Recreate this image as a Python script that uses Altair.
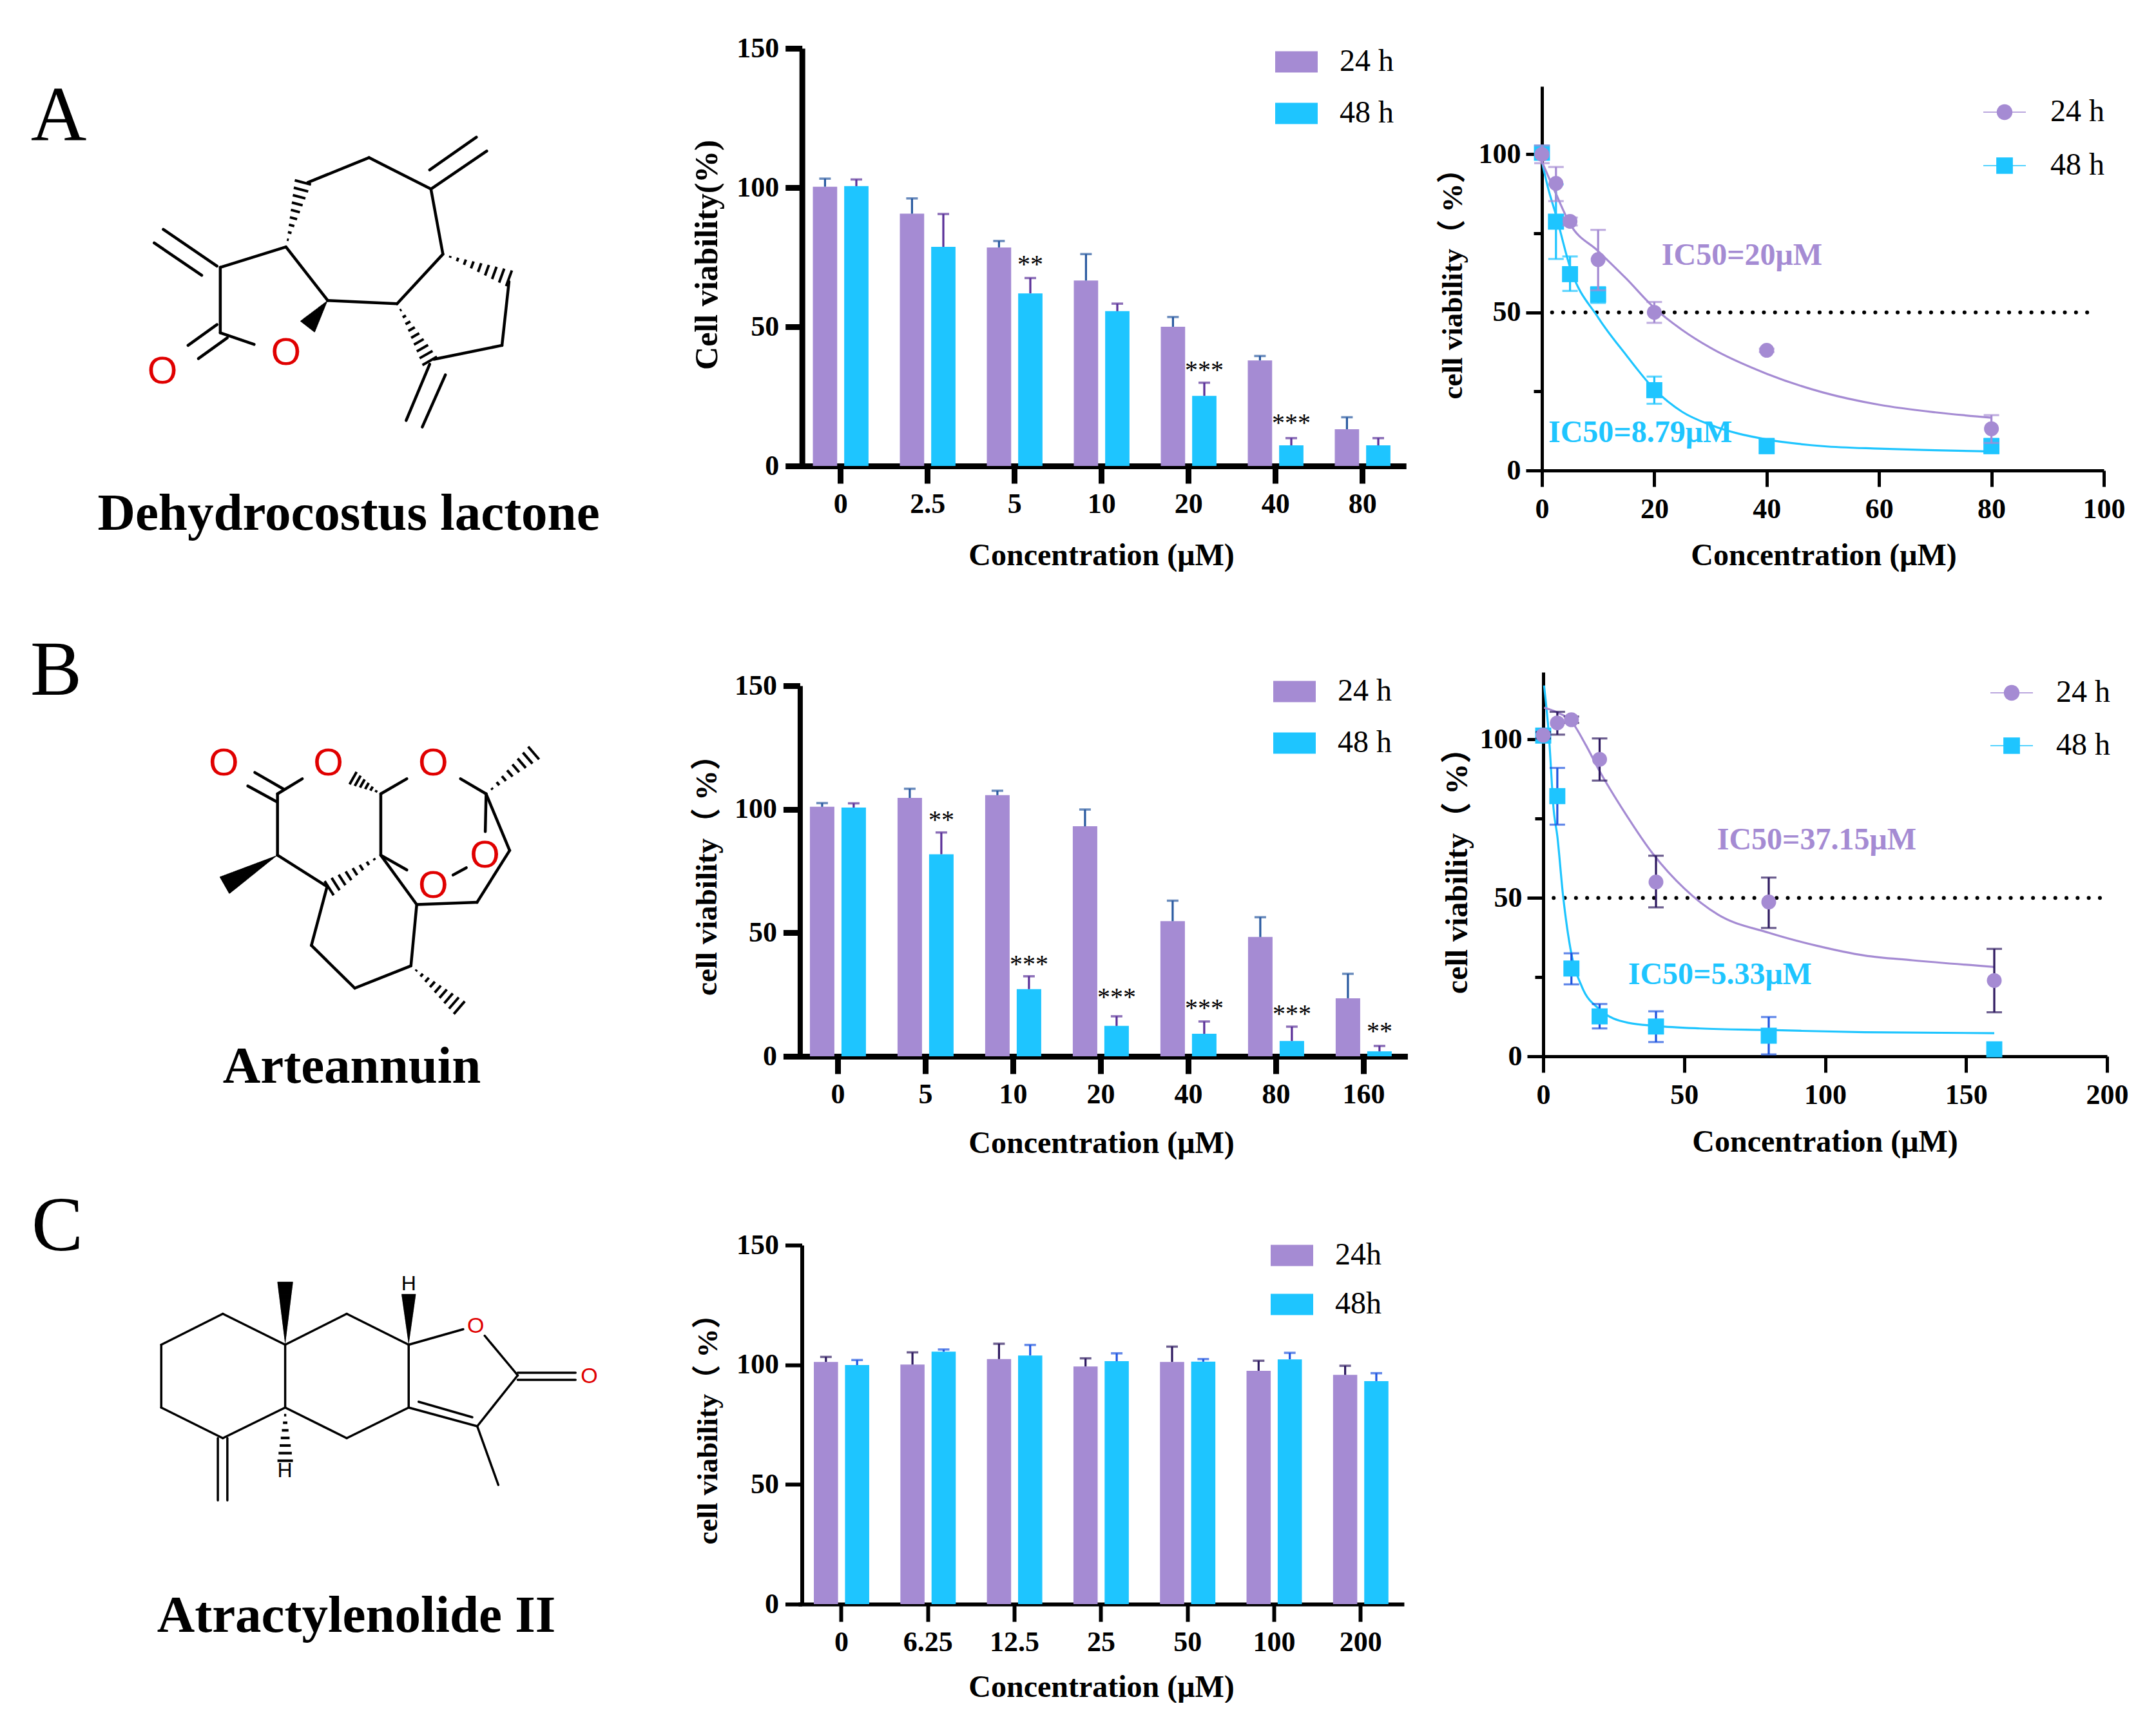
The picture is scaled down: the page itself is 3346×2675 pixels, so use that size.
import altair as alt
import pandas as pd
import math

SERIF = "Liberation Serif, Noto Sans CJK SC"
PURPLE = "#a58bd3"
CYAN = "#1ec5ff"

# ---------- bar panels ----------
A_cats = ["0", "2.5", "5", "10", "20", "40", "80"]
A_24 = [100.3, 90.6, 78.5, 66.6, 50, 37.9, 13.2]
A_24_top = [103.2, 96.1, 80.8, 76.1, 53.5, 39.5, 17.5]
A_48 = [100.5, 78.7, 62, 55.6, 25.2, 7.4, 7.4]
A_48_top = [102.9, 90.5, 67.5, 58.3, 29.9, 10, 10]
A_stars = [("5", "**", 73.6), ("20", "***", 35.7), ("40", "***", 16.6)]

B_cats = ["0", "5", "10", "20", "40", "80", "160"]
B_24 = [101, 104.6, 105.7, 93.1, 54.7, 48.3, 23.5]
B_24_top = [102.5, 108.3, 107.5, 99.9, 63, 56.3, 33.4]
B_48 = [100.7, 81.8, 27.2, 12.3, 9.1, 6.2, 2]
B_48_top = [102.4, 90.6, 32.4, 16.2, 14.1, 12, 4.2]
B_stars = [("5", "**", 97), ("10", "***", 38.7), ("20", "***", 25.2), ("40", "***", 21), ("80", "***", 18.6), ("160", "**", 11.4)]

C_cats = ["0", "6.25", "12.5", "25", "50", "100", "200"]
C_24 = [101.2, 100.1, 102.4, 99.3, 101.2, 97.5, 95.8]
C_24_top = [103.3, 105.2, 108.8, 102.7, 107.6, 101.7, 99.6]
C_48 = [99.9, 105.5, 103.9, 101.5, 101.3, 102.3, 93.2]
C_48_top = [102, 106.4, 108.3, 104.8, 102.4, 105, 96.5]

# ---------- curve panels ----------
cA_conc = [0, 2.5, 5, 10, 20, 40, 80]
cA_24 = [100, 90.8, 78.8, 66.7, 50, 38, 13.2]
cA_24_lo = [97.2, 85.2, 77.5, 57, 46.7, 37.5, 8.7]
cA_24_hi = [102.8, 96, 80, 76.1, 53.3, 38.5, 17.5]
cA_48 = [100.5, 78.7, 62.1, 55.6, 25.4, 7.7, 7.7]
cA_48_lo = [98.5, 66.9, 56.8, 53, 21.1, 5.5, 5.5]
cA_48_hi = [102.5, 90.5, 67.7, 58, 29.7, 10, 10]
cA_curve24_x = [0, 2.5, 5, 10, 15, 20, 25, 30, 40, 50, 60, 70, 80]
cA_curve24_y = [97.7, 87.5, 78, 69.4, 60.7, 51.4, 44.4, 38.8, 30.6, 24.7, 20.8, 18.4, 16.7]
cA_curve48_x = [0, 1, 2.5, 5, 10, 15, 20, 25, 30, 40, 50, 60, 70, 80]
cA_curve48_y = [97.7, 90, 80.8, 64.3, 48.4, 36.5, 25.7, 18.5, 14.4, 9.8, 7.7, 6.9, 6.4, 6.0]

cB_conc = [0, 5, 10, 20, 40, 80, 160]
cB_24 = [101.3, 105.2, 106.2, 93.7, 55, 48.7, 23.9]
cB_24_lo = [100.3, 101.5, 105.2, 87, 47, 40.5, 13.9]
cB_24_hi = [102.3, 108.7, 107.2, 100.3, 63.3, 56.4, 33.9]
cB_48 = [101.2, 82.1, 27.7, 12.6, 9.4, 6.5, 2.2]
cB_48_lo = [100.2, 73.1, 22.7, 8.8, 4.5, 0.6, 0.5]
cB_48_hi = [102.2, 91, 32.5, 16.5, 14.2, 12.4, 4]
cB_curve24_x = [0.3, 5, 10, 15, 20, 29, 39, 50, 62, 80, 97, 114, 131, 160]
cB_curve24_y = [110, 108.5, 105.7, 98.4, 90, 76.8, 63.8, 53, 44.7, 39, 34.9, 31.8, 30.3, 28.2]
cB_curve48_x = [0.3, 2, 3.7, 5, 7, 10, 13.7, 20, 30, 40, 55.5, 80, 114, 160]
cB_curve48_y = [117, 101.5, 77.8, 69.5, 51, 32.3, 22, 14.8, 10.6, 9.6, 8.8, 8.3, 7.6, 7.3]

# ---------- page geometry (pixels) ----------
ROW_START = [12, 734, 1643]
ROW_BOT = [727, 1647, 2499]
STRUCT_H = [700, 900, 700]
COL0_W = 1229
BAR_H = [715, 909, 850]
BAR_W = 1156
CURVE_H = [722, 909]
CURVE_BOT = [734, 1647]

BOX = "M-1,-0.5H1V0.5H-1Z"
LEG_CIRCLE = "M-1,-0.025H1V0.025H-1Z M0.37,0A0.37,0.37 0 1,1 -0.37,0A0.37,0.37 0 1,1 0.37,0Z"
LEG_SQUARE = "M-1,-0.025H1V0.025H-1Z M-0.39,-0.39H0.39V0.39H-0.39Z"


def bar_panel(cats, v24, t24, v48, t48, stars, names, row, plot_h, t0, dx, step, bw_y, bw_x, title, title_size,
              title_y_x, title_y_abs, title_x_rel, title_x_y, err_cols, leg_x, leg_y_abs, leg_pad, star_dy=6, tw=9, label_pad=10):
    H = BAR_H[row]
    bot = ROW_BOT[row]
    s24, s48 = names
    df = pd.DataFrame(
        [{"c": c, "s": s24, "v": v, "top": t} for c, v, t in zip(cats, v24, t24)]
        + [{"c": c, "s": s48, "v": v, "top": t} for c, v, t in zip(cats, v48, t48)]
    )
    x = alt.X(
        "c:N",
        sort=None,
        scale=alt.Scale(domain=cats, range=[t0 - step / 2, t0 + step * (len(cats) - 0.5)], paddingInner=0, paddingOuter=0),
        axis=alt.Axis(
            title="Concentration (μM)",
            titleX=title_x_rel,
            titleY=title_x_y,
            titleAnchor=None,
            titleAlign="center",
            titleBaseline="middle",
            labelAngle=0,
            tickSize=27,
            tickWidth=tw,
            domainWidth=bw_x,
            labelPadding=label_pad,
            labelFontSize=44,
        ),
    )
    xo = alt.XOffset("s:N", sort=None, scale=alt.Scale(domain=[s24, s48], paddingInner=0.224, paddingOuter=0.5))
    yscale = alt.Scale(domain=[0, 150], range=[H, H - plot_h], nice=False)
    y = alt.Y(
        "v:Q",
        scale=yscale,
        axis=alt.Axis(
            title=title,
            values=[0, 50, 100, 150],
            offset=-dx,
            titleX=title_y_x,
            titleY=H - (bot - title_y_abs),
            titleAnchor=None,
            titleAngle=-90,
            titleAlign="center",
            titleBaseline="middle",
            titleFontSize=title_size,
            tickSize=26,
            tickWidth=tw,
            domainWidth=bw_y,
            labelPadding=10,
            labelFontSize=44,
        ),
    )
    legend = alt.Legend(
        orient="none",
        legendX=leg_x,
        legendY=H - (bot - leg_y_abs) - 31,
        title=None,
        symbolType=BOX,
        symbolSize=4356,
        symbolStrokeWidth=0,
        rowPadding=leg_pad,
        labelFont=SERIF,
        labelFontSize=48,
        labelFontWeight="normal",
        labelColor="black",
        labelOffset=34,
        padding=0,
    )
    bars = alt.Chart(df).mark_bar().encode(
        x=x,
        xOffset=xo,
        y=y,
        color=alt.Color("s:N", sort=None, scale=alt.Scale(domain=[s24, s48], range=[PURPLE, CYAN]), legend=legend),
    )
    layers = [bars]
    for s, col in zip([s24, s48], err_cols):
        d = df[df.s == s]
        layers.append(alt.Chart(d).mark_rule(color=col, strokeWidth=3.2).encode(
            x=alt.X("c:N", sort=None), xOffset=alt.XOffset("s:N", sort=None), y="v:Q", y2="top:Q"))
        layers.append(alt.Chart(d).mark_tick(color=col, orient="horizontal", size=18, thickness=3.5).encode(
            x=alt.X("c:N", sort=None), xOffset=alt.XOffset("s:N", sort=None), y=alt.Y("top:Q")))
    if stars:
        sd = pd.DataFrame([{"c": c, "s": s48, "t": t, "p": p} for c, t, p in stars])
        layers.append(alt.Chart(sd).mark_text(font=SERIF, fontSize=40, color="black", baseline="middle", dy=star_dy).encode(
            x=alt.X("c:N", sort=None), xOffset=alt.XOffset("s:N", sort=None), y=alt.Y("p:Q"), text="t:N"))
    return alt.layer(*layers).properties(width=BAR_W, height=H)


def curve_panel(conc, m24, lo24, hi24, m48, lo48, hi48, cx24, cy24, cx48, cy48, xmax, xvals, row, dx, width,
                plot_w, plot_h, ymax, title, title_size, ty_x, ty_abs, tx_rel, tx_y, err_cols, ic, ref, leg_x, leg_y_abs, leg_pad, leg_off):
    H = CURVE_H[row]
    bot = CURVE_BOT[row]
    xs = alt.Scale(domain=[0, xmax], range=[dx, dx + plot_w], nice=False)
    ys = alt.Scale(domain=[0, ymax], range=[H, H - plot_h], nice=False)
    xaxis = alt.Axis(
        title="Concentration (μM)", values=xvals, titleX=tx_rel, titleY=tx_y, titleAnchor=None, titleAlign="center",
        titleBaseline="middle", tickSize=25, tickWidth=5, domainWidth=5, labelPadding=13, labelFontSize=44, labelAngle=0)
    y = alt.Y("y:Q", scale=ys, axis=alt.Axis(
        title=title, values=[0, 25, 50, 75, 100], offset=-dx, titleX=ty_x, titleY=H - (bot - ty_abs), titleAnchor=None, titleAngle=-90,
        titleAlign="center", titleBaseline="middle", titleFontSize=title_size,
        tickSize={"condition": {"test": "datum.value % 50 === 0", "value": 25}, "value": 13},
        labelExpr="datum.value % 50 === 0 ? datum.label : ''",
        tickWidth=5, domainWidth=5, labelPadding=8, labelFontSize=44))

    df24 = pd.DataFrame({"x": conc, "y": m24, "lo": lo24, "hi": hi24, "s": "24 h"})
    df48 = pd.DataFrame({"x": conc, "y": m48, "lo": lo48, "hi": hi48, "s": "48 h"})
    cur24 = pd.DataFrame({"x": cx24, "y": cy24})
    cur48 = pd.DataFrame({"x": cx48, "y": cy48})
    legend = alt.Legend(
        orient="none", legendX=leg_x, legendY=H - (bot - leg_y_abs) - 31, title=None, symbolSize=4356,
        symbolStrokeWidth=0, symbolOpacity=1,
        rowPadding=leg_pad, labelFont=SERIF, labelFontSize=48, labelFontWeight="normal", labelColor="black",
        labelOffset=leg_off, padding=0)
    layers = [
        alt.Chart(pd.DataFrame({"a": [ref[0]], "b": [ref[1]], "y": [50]})).mark_rule(
            color="black", strokeWidth=6, strokeDash=[0.1, 17.2], strokeCap="round").encode(
            x=alt.X("a:Q", scale=xs, axis=xaxis), x2="b:Q", y=y),
        alt.Chart(cur48).mark_line(color=CYAN, strokeWidth=3.2, interpolate="monotone").encode(x="x:Q", y="y:Q"),
        alt.Chart(cur24).mark_line(color=PURPLE, strokeWidth=3.2, interpolate="monotone").encode(x="x:Q", y="y:Q"),
    ]
    for d, col, shp, sz, ec in [(df48, CYAN, "square", 620, err_cols[1]), (df24, PURPLE, "circle", 530, err_cols[0])]:
        layers.append(alt.Chart(d).mark_rule(color=ec, strokeWidth=3.2).encode(x="x:Q", y="lo:Q", y2="hi:Q"))
        layers.append(alt.Chart(d).mark_tick(color=ec, orient="horizontal", size=24, thickness=3.2).encode(x="x:Q", y="lo:Q"))
        layers.append(alt.Chart(d).mark_tick(color=ec, orient="horizontal", size=24, thickness=3.2).encode(x="x:Q", y="hi:Q"))
        layers.append(alt.Chart(d).mark_point(color=col, filled=True, opacity=1, shape=shp, size=sz).encode(x="x:Q", y="y:Q"))
    for tx, ty, txt, col in ic:
        layers.append(alt.Chart(pd.DataFrame({"x": [tx], "y": [ty], "t": [txt]})).mark_text(
            font=SERIF, fontWeight="bold", fontSize=48, color=col, baseline="middle").encode(x="x:Q", y="y:Q", text="t:N"))
    both = pd.concat([df24, df48])
    layers.append(alt.Chart(both).mark_point(filled=True, opacity=0, size=1).encode(
        x="x:Q", y="y:Q",
        color=alt.Color("s:N", sort=None, scale=alt.Scale(domain=["24 h", "48 h"], range=[PURPLE, CYAN]), legend=legend),
        shape=alt.Shape("s:N", sort=None, scale=alt.Scale(domain=["24 h", "48 h"], range=[LEG_CIRCLE, LEG_SQUARE]), legend=legend),
    ))
    return alt.layer(*layers).properties(width=width, height=H)


# ---------- chemical structures (bonds, page pixels) ----------
def wedge(p0, p1, w, hashed):
    n = max(6, int(math.dist(p0, p1) / 11)) if hashed else int(math.dist(p0, p1) / 1.6)
    dx, dy = p1[0] - p0[0], p1[1] - p0[1]
    L = math.hypot(dx, dy)
    nx, ny = -dy / L, dx / L
    out = []
    for i in range(1, n + 1):
        t = i / n
        cx, cy = p0[0] + dx * t, p0[1] + dy * t
        h = t * w / 2
        out.append((cx - nx * h, cy - ny * h, cx + nx * h, cy + ny * h))
    return out


def struct(row, fx, fy, bonds, hashes, solids, red, dark, lw, ofs, name, name_xy, name_size, letter, letter_xy):
    top = ROW_START[row]
    h = STRUCT_H[row]
    bot = top + h
    width = COL0_W
    P = lambda p: (fx(p[0]), fy(p[1]))
    rows = []
    for a, b in bonds:
        a, b = P(a), P(b)
        rows.append({"x": a[0], "y": a[1], "x2": b[0], "y2": b[1]})
    seg = pd.DataFrame(rows)
    hs = []
    for a, b, w in hashes:
        hs += wedge(P(a), P(b), w, True)
    ss = []
    for a, b, w in solids:
        ss += wedge(P(a), P(b), w, False)
    hd = pd.DataFrame(hs, columns=["x", "y", "x2", "y2"])
    sd = pd.DataFrame(ss, columns=["x", "y", "x2", "y2"])
    xs = alt.Scale(domain=[8, 8 + width], range=[0, width], nice=False, zero=False)
    ys = alt.Scale(domain=[bot, top], range=[h, 0], nice=False, zero=False)
    X = alt.X("x:Q", scale=xs, axis=None)
    Y = alt.Y("y:Q", scale=ys, axis=None)
    layers = [
        alt.Chart(seg).mark_rule(color="black", strokeWidth=lw, strokeCap="round").encode(x=X, y=Y, x2="x2:Q", y2="y2:Q"),
    ]
    if len(hd):
        layers.append(alt.Chart(hd).mark_rule(color="black", strokeWidth=4).encode(x=X, y=Y, x2="x2:Q", y2="y2:Q"))
    if len(sd):
        layers.append(alt.Chart(sd).mark_rule(color="black", strokeWidth=2.4).encode(x=X, y=Y, x2="x2:Q", y2="y2:Q"))
    rd = pd.DataFrame([{"x": fx(a), "y": fy(b), "t": "O"} for a, b in red])
    layers.append(alt.Chart(rd).mark_text(font="Liberation Sans", fontSize=ofs, color="#e00000", baseline="middle").encode(x=X, y=Y, text="t:N"))
    if dark:
        dd = pd.DataFrame([{"x": fx(a), "y": fy(b), "t": "H"} for a, b in dark])
        layers.append(alt.Chart(dd).mark_text(font="Liberation Sans", fontSize=32, color="black", baseline="middle").encode(x=X, y=Y, text="t:N"))
    layers.append(alt.Chart(pd.DataFrame([{"x": name_xy[0], "y": name_xy[1], "t": name}])).mark_text(
        font=SERIF, fontWeight="bold", fontSize=name_size, color="black", baseline="middle").encode(x=X, y=Y, text="t:N"))
    layers.append(alt.Chart(pd.DataFrame([{"x": letter_xy[0], "y": letter_xy[1], "t": letter}])).mark_text(
        font=SERIF, fontSize=120, color="black", baseline="middle").encode(x=X, y=Y, text="t:N"))
    return alt.layer(*layers).properties(width=width, height=h)


sA_bonds = [((538, 692), (697, 630)), ((697, 630), (798, 792)), ((798, 792), (966, 802)), ((966, 802), (1077, 652)),
            ((1077, 652), (1048, 455)), ((1048, 455), (898, 360)), ((898, 360), (750, 435)), ((1237, 735), (1220, 928)),
            ((1220, 928), (1055, 970)), ((538, 692), (538, 890)), ((538, 890), (620, 925)),
            ((530, 688), (400, 577)), ((493, 716), (378, 618)), ((1048, 455), (1183, 340)), ((1045, 397), (1158, 298)),
            ((1045, 985), (988, 1155)), ((1083, 1017), (1027, 1175)), ((530, 865), (460, 928)), ((555, 905), (485, 968))]
sA_hash = [((697, 630), (738, 435), 26), ((1077, 652), (1237, 725), 26), ((966, 802), (1045, 975), 26)]
sA_solid = [((798, 792), (750, 870), 28)]
sA_red = [(697, 952), (398, 1008)]

sB_bonds = [((675, 510), (735, 462)), ((620, 442), (690, 495)), ((603, 485), (673, 535)), ((675, 510), (675, 705)),
            ((675, 705), (795, 805)), ((795, 805), (757, 992)), ((757, 992), (862, 1128)), ((862, 1128), (998, 1057)),
            ((998, 1057), (1012, 862)), ((1012, 862), (925, 705)), ((925, 705), (925, 510)), ((925, 510), (988, 462)),
            ((1118, 462), (1180, 510)), ((1180, 510), (1178, 630)), ((1180, 510), (1237, 690)), ((1237, 690), (1158, 855)),
            ((1158, 855), (1012, 862)), ((925, 705), (988, 752)), ((1100, 768), (1132, 745))]
sB_hash = [((925, 510), (858, 460), 22), ((1180, 510), (1295, 380), 26), ((925, 705), (800, 810), 26), ((998, 1057), (1115, 1190), 26)]
sB_solid = [((675, 705), (548, 800), 30)]
sB_red = [(545, 415), (798, 415), (1052, 415), (1177, 708), (1052, 803)]

sC_ring = [(392, 495), (541, 399), (692, 495), (841, 399), (991, 495), (991, 690), (841, 785), (692, 690), (541, 785), (392, 690)]
sC_bonds = [(sC_ring[i], sC_ring[(i + 1) % 10]) for i in range(10)] + [
    ((692, 495), (692, 690)), ((991, 495), (1123, 447)), ((1175, 467), (1255, 590)), ((1255, 590), (1157, 748)),
    ((1157, 748), (991, 690)), ((1015, 672), (1145, 720)), ((1157, 748), (1208, 930)), ((1255, 582), (1395, 582)),
    ((1255, 604), (1395, 604)), ((529, 785), (529, 978)), ((552, 785), (552, 978))]
sC_hash = [((692, 690), (692, 855), 24)]
sC_solid = [((692, 495), (692, 302), 24), ((991, 495), (991, 340), 22)]
sC_red = [(1153, 437), (1428, 594)]
sC_dark = [(691, 885), (991, 305)]

s1 = struct(0, lambda v: v / 1.56 - 3, lambda v: 64 + v / 1.95, sA_bonds, sA_hash, sA_solid, sA_red, None, 4.5, 60,
            "Dehydrocostus lactone", (541, 802), 81, "A", (91, 186))
s2 = struct(1, lambda v: v / 1.56 - 2, lambda v: 987 + v / 2.05, sB_bonds, sB_hash, sB_solid, sB_red, None, 4.5, 60,
            "Arteannuin", (546, 1660), 81, "B", (87, 1046))
s3 = struct(2, lambda v: v / 1.56 - 1, lambda v: 1843 + v / 2.0, sC_bonds, sC_hash, sC_solid, sC_red, sC_dark, 3.5, 34,
            "Atractylenolide II", (553, 2512), 81, "C", (89, 1908))

bA = bar_panel(A_cats, A_24, A_24_top, A_48, A_48_top, A_stars, ["24 h", "48 h"], 0, 648, 67.7, 7.7, 135.0, 9, 9,
               "Cell viability(%)", 50, -147, 399, 472, 139, ["#2a5aa0", "#5a3098"], 742, 98, 23)
bB = bar_panel(B_cats, B_24, B_24_top, B_48, B_48_top, B_stars, ["24 h", "48 h"], 1, 575, 63.4, 4.4, 136.0, 8, 9,
               "cell viability（ %）", 47, -144, 1354, 472, 135, ["#2a5aa0", "#5a3098"], 739, 1079, 23)
bC = bar_panel(C_cats, C_24, C_24_top, C_48, C_48_top, [], ["24h", "48h"], 2, 557, 69, 7.5, 134.3, 6, 6,
               "cell viability（ %）", 45, -146, 2216, 472, 129, ["#2e1a60", "#1f55e0"], 735, 1956, 19, tw=6)

cA = curve_panel(cA_conc, cA_24, cA_24_lo, cA_24_hi, cA_48, cA_48_lo, cA_48_hi, cA_curve24_x, cA_curve24_y, cA_curve48_x, cA_curve48_y,
                 100, [0, 20, 40, 60, 80, 100], 0, 0, 930, 872, 596, 121.5, "cell viability（ %）", 45, -139, 433,
                 437, 132, [PURPLE, CYAN],
                 [(35.6, 67.9, "IC50=20μM", PURPLE), (17.5, 11.8, "IC50=8.79μM", CYAN)], (1.8, 99),
                 685, 176, 26, 38)
cB = curve_panel(cB_conc, cB_24, cB_24_lo, cB_24_hi, cB_48, cB_48_lo, cB_48_hi, cB_curve24_x, cB_curve24_y, cB_curve48_x, cB_curve48_y,
                 200, [0, 50, 100, 150, 200], 1, 2, 930, 875, 596, 121.2, "cell viability（ %）", 48, -133, 1347,
                 439, 133, ["#2e1a60", "#1f55e0"],
                 [(97, 68.2, "IC50=37.15μM", PURPLE), (62.7, 25.6, "IC50=5.33μM", CYAN)], (3.7, 198),
                 696, 1081, 25, 36)

chart = alt.concat(s1, bA, cA, s2, bB, cB, s3, bC, columns=3, spacing=0).resolve_scale(
    color="independent", shape="independent", xOffset="independent",
).properties(
    bounds="flush", align="none", padding=0,
).configure_view(stroke=None).configure_axis(
    grid=False, domainColor="black", tickColor="black", labelColor="black", titleColor="black",
    labelFont=SERIF, titleFont=SERIF, labelFontWeight="bold", titleFontWeight="bold", titleFontSize=48,
    labelOverlap=False, labelFlush=False,
)
chart.save("out.html", embed_options={"renderer": "svg", "actions": False})
